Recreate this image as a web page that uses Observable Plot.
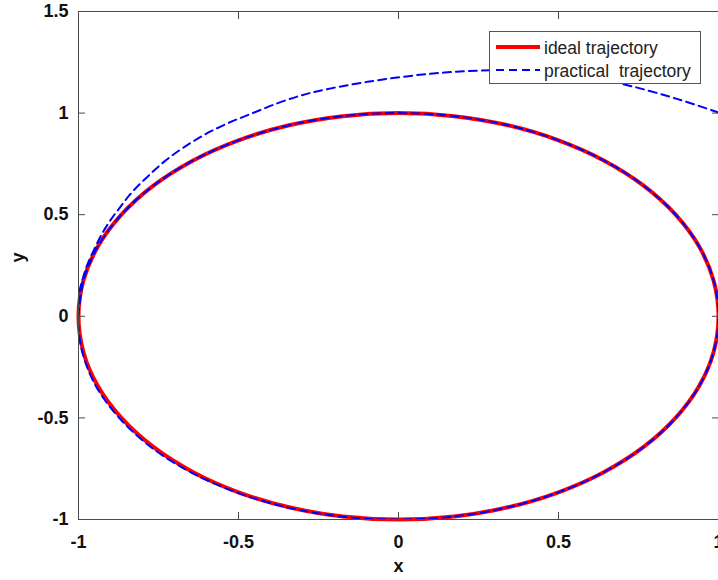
<!DOCTYPE html>
<html><head><meta charset="utf-8">
<script src="https://cdn.jsdelivr.net/npm/d3@7"></script>
<script src="https://cdn.jsdelivr.net/npm/@observablehq/plot@0.6"></script>
<style>
body{margin:0;background:#fff}
#chart{position:relative;width:718px;height:580px;overflow:hidden}
</style>
</head><body><div id="chart"></div>
<script>
const xTicks = [-1, -0.5, 0, 0.5, 1];
const yTicks = [-1, -0.5, 0, 0.5, 1, 1.5];
const seriesNames = ["ideal trajectory", "practical  trajectory"];
const axisLabels = ["x", "y"];

// ideal trajectory (unit circle, read every 10 degrees)
const idealX = [1, 0.985, 0.940, 0.866, 0.766, 0.643, 0.5, 0.342, 0.174, 0, -0.174, -0.342, -0.5, -0.643, -0.766, -0.866, -0.940, -0.985,
  -1, -0.985, -0.940, -0.866, -0.766, -0.643, -0.5, -0.342, -0.174, 0, 0.174, 0.342, 0.5, 0.643, 0.766, 0.866, 0.940, 0.985];
const idealY = [0, 0.174, 0.342, 0.5, 0.643, 0.766, 0.866, 0.940, 0.985, 1, 0.985, 0.940, 0.866, 0.766, 0.643, 0.5, 0.342, 0.174,
  0, -0.174, -0.342, -0.5, -0.643, -0.766, -0.866, -0.940, -0.985, -1, -0.985, -0.940, -0.866, -0.766, -0.643, -0.5, -0.342, -0.174];

// practical trajectory: approach arc from upper right, then around the circle
const practicalX = [1.0, 0.87, 0.734, 0.62, 0.5, 0.40, 0.288, 0.109, -0.097, -0.249, -0.306, -0.379, -0.457, -0.535, -0.608, -0.676,
  -0.733, -0.785, -0.832, -0.869, -0.900, -0.926, -0.952, -0.973, -0.988, -0.996,
  -1.002, -0.988, -0.945, -0.871, -0.771, -0.646, -0.502, -0.343, -0.174, 0, 0.174, 0.342, 0.5, 0.643, 0.766, 0.866, 0.940, 0.985,
  1, 0.985, 0.940, 0.866, 0.766, 0.643, 0.5, 0.342, 0.174, 0, -0.174, -0.342, -0.5, -0.643, -0.766, -0.866, -0.940, -0.985, -1];
const practicalY = [1.003, 1.07, 1.130, 1.17, 1.198, 1.212, 1.211, 1.195, 1.154, 1.109, 1.086, 1.048, 0.999, 0.949, 0.892, 0.826,
  0.760, 0.686, 0.612, 0.539, 0.473, 0.408, 0.326, 0.252, 0.178, 0.129,
  0, -0.176, -0.345, -0.503, -0.647, -0.770, -0.869, -0.942, -0.986, -1, -0.985, -0.940, -0.866, -0.766, -0.643, -0.5, -0.342, -0.174,
  0, 0.174, 0.342, 0.5, 0.643, 0.766, 0.866, 0.940, 0.985, 1, 0.985, 0.940, 0.866, 0.766, 0.643, 0.5, 0.342, 0.174, 0];

const ideal = idealX.map((x, i) => ({x, y: idealY[i]}));
const practical = practicalX.map((x, i) => ({x, y: practicalY[i]}));
const fmt = d => String(d);
const axisColor = "#4a4a4a";

const plot = Plot.plot({
  width: 718,
  height: 580,
  marginLeft: 78,
  marginRight: 0,
  marginTop: 11,
  marginBottom: 61,
  style: {fontFamily: "'Liberation Sans', Arial, sans-serif", fontSize: "18px", fontWeight: "bold", color: "#111", background: "#fff"},
  x: {domain: [-1, 1]},
  y: {domain: [-1, 1.5]},
  marks: [
    Plot.line(ideal, {x: "x", y: "y", stroke: "#ff0000", strokeWidth: 4, curve: "catmull-rom-closed"}),
    Plot.line(practical, {x: "x", y: "y", stroke: "#0000ff", strokeWidth: 2, strokeDasharray: "8,5", curve: "catmull-rom", clip: true}),
    Plot.frame({stroke: axisColor, strokeWidth: 1}),
    Plot.axisX(xTicks, {anchor: "bottom", tickSize: 0, tickPadding: 16, tickFormat: fmt, label: null, fill: "#111"}),
    Plot.axisX(xTicks, {anchor: "bottom", tickSize: -7, fill: "none", stroke: axisColor, label: null}),
    Plot.axisX(xTicks, {anchor: "top", tickSize: -7, fill: "none", stroke: axisColor, label: null}),
    Plot.axisY(yTicks, {anchor: "left", tickSize: 0, tickPadding: 10, tickFormat: fmt, label: null, fill: "#111"}),
    Plot.axisY(yTicks, {anchor: "left", tickSize: -7, fill: "none", stroke: axisColor, label: null}),
    Plot.axisY(yTicks, {anchor: "right", tickSize: -7, fill: "none", stroke: axisColor, label: null}),
    Plot.text([axisLabels[0]], {text: d => d, frameAnchor: "bottom", dy: 52, fill: "#111", fontSize: 18, fontWeight: "bold"}),
    Plot.text([axisLabels[1]], {text: d => d, frameAnchor: "left", dx: -60, dy: -3, rotate: -90, fill: "#111", fontSize: 18, fontWeight: "bold"})
  ]
});

// legend inside the plot, top right
const svg = d3.select(plot);
const g = svg.append("g").attr("class", "legend");
g.append("rect").attr("x", 489.5).attr("y", 31.5).attr("width", 211).attr("height", 52)
  .attr("fill", "#fff").attr("stroke", "#555").attr("stroke-width", 1);
const rows = [
  {name: seriesNames[0], stroke: "#ff0000", width: 4, dash: null, y: 47},
  {name: seriesNames[1], stroke: "#0000ff", width: 2, dash: "8,5", y: 70}
];
rows.forEach(r => {
  g.append("line").attr("x1", 496).attr("x2", 540).attr("y1", r.y).attr("y2", r.y)
    .attr("stroke", r.stroke).attr("stroke-width", r.width).attr("stroke-dasharray", r.dash);
  g.append("text").attr("x", 544).attr("y", r.y + 7).text(r.name)
    .attr("text-anchor", "start")
    .attr("font-family", "'Liberation Sans', Arial, sans-serif").attr("font-size", 17.5)
    .attr("font-weight", "normal").attr("fill", "#222").style("white-space", "pre");
});

document.getElementById("chart").appendChild(plot);
</script>
</body></html>
